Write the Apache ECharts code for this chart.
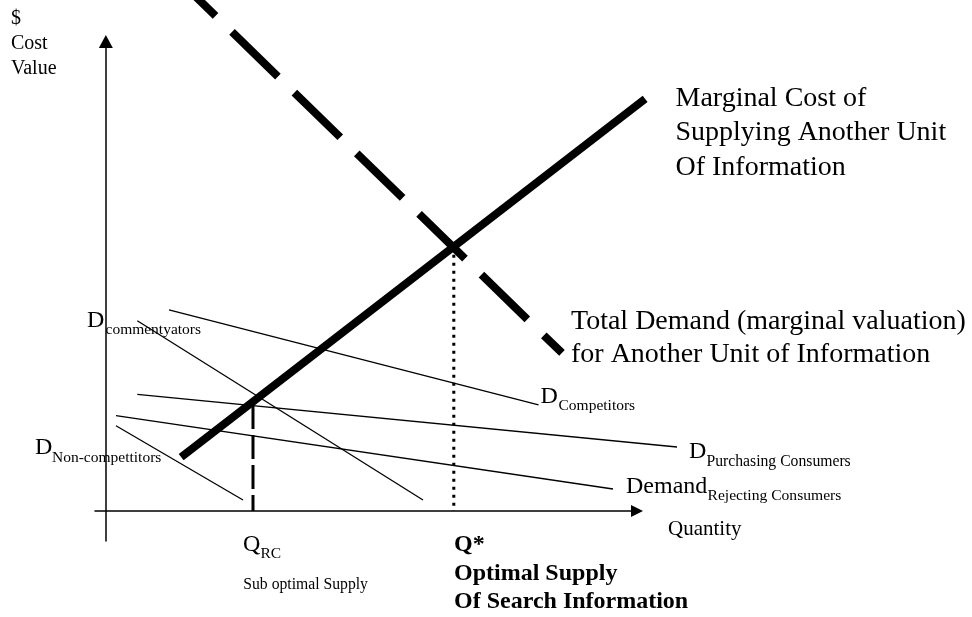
<!DOCTYPE html>
<html>
<head>
<meta charset="utf-8">
<script src="https://cdn.jsdelivr.net/npm/echarts@6/dist/echarts.min.js"></script>
<style>
  html, body { margin: 0; padding: 0; background: #fff; }
  #chart { width: 972px; height: 617px; }
</style>
</head>
<body>
<div id="chart"></div>
<script>
// ---- data (schematic units: quantity on x, $ cost/value on y) ----
const xRange = [-2, 98];         // visible axes
const yRange = [-6, 94];
const xRangeDraw = [-2, 108];    // same scale, wider drawing area for curves
const yRangeDraw = [-6, 102.31];
const marginalCost     = [[13.9, 10.8], [99.5, 82.5]];
const totalDemand      = [[16.09, 103.51], [84.16, 31.64]];
const dCommentators    = [[5.80, 38.10], [58.52, 2.21]];
const dCompetitors     = [[11.65, 40.25], [79.83, 21.23]];
const dPurchasing      = [[5.80, 23.37], [105.38, 12.82]];
const dRejecting       = [[1.87, 19.09], [93.57, 4.41]];
const dNonCompetitors  = [[1.87, 17.08], [25.31, 2.21]];
const qRC              = [[27.15, 21.23], [27.15, 0]];
const qStar            = [[64.2, 52.9], [64.2, 0]];

const yAxisTitle = '$\nCost\nValue';
const xAxisTitle = 'Quantity';
const mcLabel = 'Marginal Cost of\nSupplying Another Unit\nOf Information';
const tdLabel = 'Total Demand (marginal valuation)\nfor Another Unit of Information';

const SERIF = '"Liberation Serif", "Times New Roman", serif';
const chart = echarts.init(document.getElementById('chart'), null, { renderer: 'canvas' });

function line(name, data, width, type, offset) {
  return {
    name, type: 'line', data, xAxisIndex: 1, yAxisIndex: 1,
    showSymbol: false, symbol: 'none', clip: false,
    silent: true, animation: false,
    lineStyle: { color: '#000', width, type: type || 'solid', dashOffset: offset || 0, cap: 'butt' }
  };
}
function txt(text, x, y, size, opts) {
  opts = opts || {};
  return {
    type: 'text', x, y, silent: true,
    style: {
      text, fill: '#000',
      font: (opts.bold ? 'bold ' : '') + size + 'px ' + SERIF,
      verticalAlign: opts.va || 'middle', align: 'left',
      lineHeight: opts.lh || undefined
    }
  };
}
const hiddenAxis = { show: false };

const option = {
  animation: false,
  backgroundColor: '#fff',
  grid: [
    { left: 95, top: 41.5, width: 542, height: 499.5, containLabel: false },
    { left: 95, top: 0, width: 596.2, height: 541, containLabel: false }
  ],
  xAxis: [{
    type: 'value', min: xRange[0], max: xRange[1], gridIndex: 0,
    axisLine: { show: true, onZero: true, symbol: ['none', 'triangle'], symbolSize: [12, 12],
      lineStyle: { color: '#000', width: 1.5 } },
    axisTick: { show: false }, axisLabel: { show: false }, splitLine: { show: false }
  }, Object.assign({ type: 'value', min: xRangeDraw[0], max: xRangeDraw[1], gridIndex: 1 }, hiddenAxis)],
  yAxis: [{
    type: 'value', min: yRange[0], max: yRange[1], gridIndex: 0,
    axisLine: { show: true, onZero: true, symbol: ['none', 'triangle'], symbolSize: [14, 13],
      lineStyle: { color: '#000', width: 1.5 } },
    axisTick: { show: false }, axisLabel: { show: false }, splitLine: { show: false }
  }, Object.assign({ type: 'value', min: yRangeDraw[0], max: yRangeDraw[1], gridIndex: 1 }, hiddenAxis)],
  series: [
    line('Non-competitors', dNonCompetitors, 1.3),
    line('Rejecting Consumers', dRejecting, 1.3),
    line('Purchasing Consumers', dPurchasing, 1.3),
    line('Commentators', dCommentators, 1.3),
    line('Competitors', dCompetitors, 1.3),
    line('Q RC', qRC, 3, [24, 6], 0),
    line('Q*', qStar, 3, [3, 5], 0),
    line('Marginal Cost', marginalCost, 8),
    line('Total Demand', totalDemand, 8, [64, 23], 32.6)
  ],
  graphic: [
    txt(yAxisTitle, 11, 5.75, 20, { va: 'top', lh: 25 }),
    txt(mcLabel, 675.5, 81.75, 28, { va: 'top', lh: 34.2 }),
    txt(tdLabel, 571, 304.6, 28, { va: 'top', lh: 33.3 }),
    txt('D', 87, 321.2, 24), txt('commentyators', 105.5, 330.3, 15.5),
    txt('D', 35, 447.9, 24), txt('Non-compettitors', 52, 458.1, 15.5),
    txt('D', 540.5, 396.4, 24), txt('Competitors', 558.5, 405.8, 15.5),
    txt('D', 689, 451.9, 24), txt('Purchasing Consumers', 706.5, 461.5, 15.7),
    txt('Demand', 626, 486.9, 24), txt('Rejecting Consumers', 707.5, 495.5, 15.6),
    txt(xAxisTitle, 668, 529.4, 21),
    txt('Q', 243, 544.6, 24), txt('RC', 260.5, 554.1, 15.5),
    txt('Sub optimal Supply', 243.3, 584.7, 15.7),
    txt('Q*\nOptimal Supply\nOf Search Information', 454, 531.05, 24, { bold: true, va: 'top', lh: 28.3 })
  ]
};
chart.setOption(option);
</script>
</body>
</html>
